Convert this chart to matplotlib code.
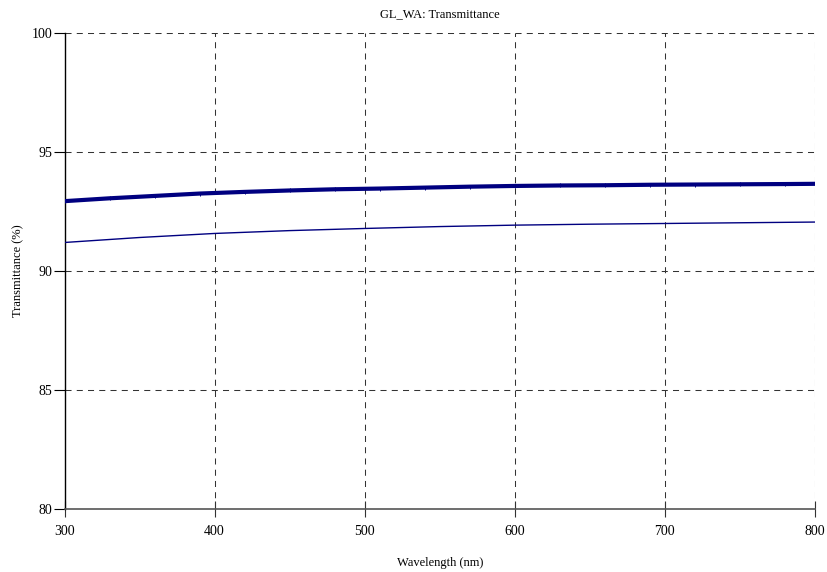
import matplotlib
matplotlib.use("Agg")
import matplotlib.pyplot as plt

# Thick curve (sampled where the small markers sit, every 30 nm, plus end point)
wl_thick = [300, 330, 360, 390, 420, 450, 480, 510, 540, 570, 600, 630,
            660, 690, 720, 750, 780, 800]
t_thick = [92.94, 93.06, 93.16, 93.26, 93.33, 93.39, 93.44, 93.47, 93.51,
           93.55, 93.58, 93.60, 93.61, 93.63, 93.64, 93.65, 93.66, 93.67]

# Thin curve
wl_thin = [300, 350, 400, 450, 500, 550, 600, 650, 700, 750, 800]
t_thin = [91.20, 91.41, 91.58, 91.70, 91.79, 91.87, 91.93, 91.97, 92.00,
          92.03, 92.06]

x_ticks = [300, 400, 500, 600, 700, 800]
y_ticks = [80, 85, 90, 95, 100]

plt.rcParams['font.family'] = ['Liberation Serif', 'DejaVu Serif']

fig = plt.figure(figsize=(8.27, 5.72), dpi=100)
ax = fig.add_axes([0.078, 0.111, 0.9075, 0.8305])

navy = '#000080'
ax.plot(wl_thin, t_thin, color=navy, linewidth=1.0, zorder=3)
ax.plot(wl_thick, t_thick, color=navy, linewidth=3.0, marker='|',
        markersize=3, markeredgewidth=0.7, markevery=list(range(len(wl_thick) - 1)),
        zorder=4)

ax.set_xlim(300, 800)
ax.set_ylim(80, 100)
ax.set_xticks(x_ticks)
ax.set_yticks(y_ticks)

# dashed grid in both directions, including the top and right edges
for xv in x_ticks[1:]:
    ax.axvline(xv, color='#333333', linewidth=0.75, dashes=(5.8, 5.0), zorder=1)
for yv in y_ticks[1:]:
    ax.axhline(yv, color='#333333', linewidth=0.75, dashes=(5.8, 5.0), zorder=1)

for side in ['top', 'right']:
    ax.spines[side].set_visible(False)
ax.spines['left'].set_color('black')
ax.spines['left'].set_linewidth(1.0)
ax.spines['bottom'].set_color('#555555')
ax.spines['bottom'].set_linewidth(1.2)

ax.tick_params(axis='y', direction='out', length=8, width=0.8, labelsize=10, pad=1)
ax.tick_params(axis='x', direction='inout', length=11.5, width=0.8, labelsize=10,
               pad=6, color='#333333')

ax.set_title('GL_WA: Transmittance', fontsize=9, pad=12)
ax.set_xlabel('Wavelength (nm)', fontsize=9, labelpad=14)
ax.set_ylabel('Transmittance (%)', fontsize=9, labelpad=5)

fig.savefig('out.png', dpi=100)
